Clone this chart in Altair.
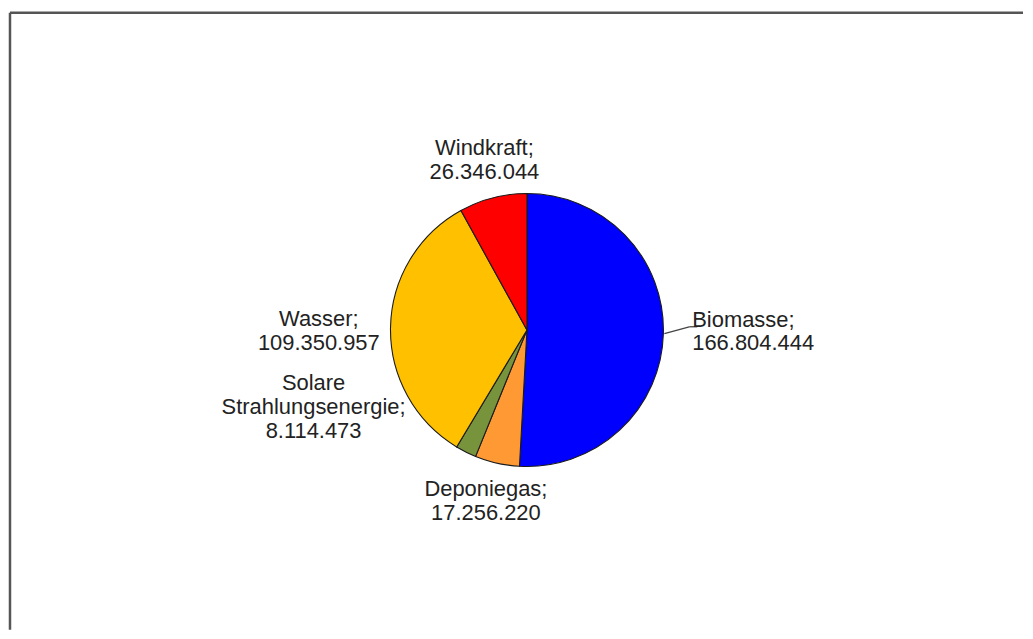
import altair as alt
import pandas as pd

# ---- data ----
categories = ["Biomasse", "Deponiegas", "Solare Strahlungsenergie", "Wasser", "Windkraft"]
label_heads = ["Biomasse;", "Deponiegas;", "Solare\nStrahlungsenergie;", "Wasser;", "Windkraft;"]
values = [166804444, 17256220, 8114473, 109350957, 26346044]
colors = ["#0000FF", "#FF9933", "#77933C", "#FFC000", "#FF0000"]


def de_num(v):
    return f"{v:,}".replace(",", ".")


df = pd.DataFrame({
    "name": categories,
    "value": values,
    "idx": list(range(len(categories))),
    "label": [h + "\n" + de_num(v) for h, v in zip(label_heads, values)],
})

# ---- layout ----
W, H = 1017, 623
CX, CY, R = 519, 322, 137
FONT = "Liberation Sans"
LH = 24

base = (
    alt.Chart(df)
    .transform_joinaggregate(total="sum(value)")
    .transform_window(cum="sum(value)", sort=[alt.SortField("idx")], frame=[None, 0])
    .transform_calculate(
        start="2*PI*(datum.cum - datum.value)/datum.total",
        end="2*PI*datum.cum/datum.total",
    )
    .transform_calculate(mid="(datum.start + datum.end)/2")
)

pie = base.mark_arc(outerRadius=R, stroke="#1a1a1a", strokeWidth=1.1).encode(
    theta=alt.Theta("start:Q", scale=None, stack=None),
    theta2="end:Q",
    x=alt.value(CX),
    y=alt.value(CY),
    color=alt.Color("name:N", scale=alt.Scale(domain=categories, range=colors), legend=None),
)

# per-label placement (styling): alignment, radial distance, fine offsets
label_style = {
    "Biomasse": dict(align="left", radius=166, dx=0, dy=-3),
    "Deponiegas": dict(align="center", radius=175, dx=-3, dy=1),
    "Solare Strahlungsenergie": dict(align="center", radius=175, dx=-136, dy=-79),
    "Wasser": dict(align="center", radius=209, dx=0, dy=5),
    "Windkraft": dict(align="center", radius=175, dx=1, dy=-1),
}

labels = []
for name, head in zip(categories, label_heads):
    st = label_style[name]
    n_lines = head.count("\n") + 2
    labels.append(
        base.transform_filter(alt.datum.name == name)
        .mark_text(
            align=st["align"], baseline="middle", radius=st["radius"],
            dx=st["dx"], dy=st["dy"] - LH * (n_lines - 1) / 2,
            lineBreak="\n", lineHeight=LH,
            font=FONT, fontSize=22, color="#222222",
        )
        .encode(
            theta=alt.Theta("mid:Q", scale=None, stack=None),
            x=alt.value(CX),
            y=alt.value(CY),
            text="label:N",
        )
    )

leader = base.transform_filter(alt.datum.name == "Biomasse").transform_calculate(
    lx1=f"{CX} + {R + 1}*sin(datum.mid)",
    ly1=f"{CY} - {R + 1}*cos(datum.mid)",
    lx2=f"{CX} + 163*sin(datum.mid)",
    ly2=f"{CY} - {R + 1}*cos(datum.mid) - 7",
).transform_calculate(lx3="datum.lx2 + 8")

seg1 = leader.mark_rule(color="#444444", strokeWidth=1.3).encode(
    x=alt.X("lx1:Q", scale=None, axis=None),
    y=alt.Y("ly1:Q", scale=None, axis=None),
    x2="lx2:Q",
    y2="ly2:Q",
)
seg2 = leader.mark_rule(color="#444444", strokeWidth=1.3).encode(
    x=alt.X("lx2:Q", scale=None, axis=None),
    x2="lx3:Q",
    y=alt.Y("ly2:Q", scale=None, axis=None),
)

border_data = alt.Data(values=[{"b": 1}])
top_border = alt.Chart(border_data).mark_rule(color="#555555", strokeWidth=2.5).encode(
    x=alt.value(0), x2=alt.value(W), y=alt.value(3.5)
)
left_border = alt.Chart(border_data).mark_rule(color="#555555", strokeWidth=2.5).encode(
    x=alt.value(0), y=alt.value(3.5), y2=alt.value(H)
)

chart = (
    alt.layer(pie, seg1, seg2, *labels, top_border, left_border)
    .properties(width=W, height=H, padding=0, background="white")
    .configure_view(stroke=None)
)

chart.save("out.html", embed_options={"renderer": "svg", "actions": False})
